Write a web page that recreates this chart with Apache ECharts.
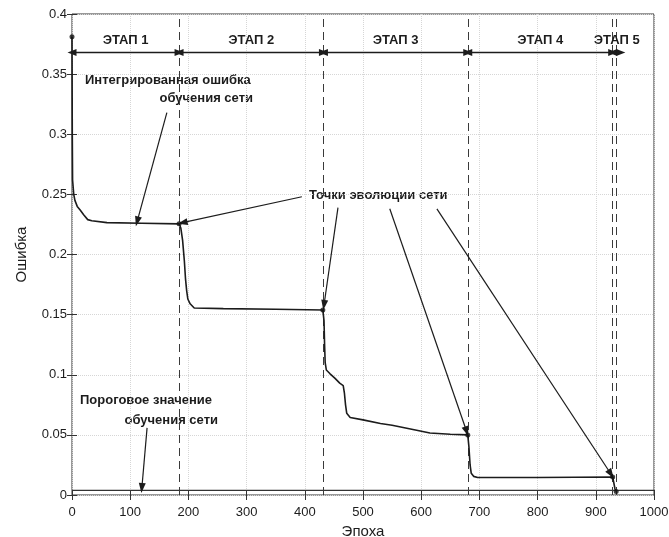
<!DOCTYPE html>
<html><head><meta charset="utf-8">
<script src="https://cdn.jsdelivr.net/npm/echarts@6/dist/echarts.min.js"></script>
<style>html,body{margin:0;padding:0;background:#fff}#c{width:669px;height:537px}</style>
</head><body><div id="c"></div>
<script>
const epochs = [0,0.5,1,3,5,9,14,20,27,34,60,120,184,
  187,190,193,195,197,199,203,210,260,350,431,
  433,434,435,437,443,452,460,466,468,470,472,478,500,530,550,590,615,650,680,
  682,684,686,690,697,800,929,
  931,933,935];
const errors = [0.381,0.30,0.262,0.25,0.245,0.24,0.237,0.233,0.229,0.228,0.2265,0.226,0.2255,
  0.222,0.212,0.195,0.18,0.17,0.163,0.159,0.1555,0.155,0.1545,0.1538,
  0.145,0.125,0.11,0.104,0.101,0.097,0.093,0.091,0.085,0.075,0.068,0.0645,0.0625,0.0595,0.058,0.054,0.0515,0.0505,0.050,
  0.04,0.025,0.018,0.0155,0.0145,0.0145,0.015,
  0.010,0.005,0.003];
const evoX = [0,184,431,680,929,935];
const evoY = [0.381,0.2255,0.1538,0.050,0.015,0.003];
const stageBounds = [0,184,432,680,929,943];
const stageNames = ['ЭТАП 1','ЭТАП 2','ЭТАП 3','ЭТАП 4','ЭТАП 5'];
const stageY = 0.368;
const dividers = [184,432,680,929,935];
const thresholdX = [0,1000];
const thresholdY = [0.0038,0.0038];
// annotation arrows: [fromX, fromY, toX, toY]
const arrowsFrom = [[163,0.318],[395,0.248],[457,0.239],[546,0.238],[627,0.238],[129,0.0558]];
const arrowsTo   = [[112,0.2275],[190,0.2265],[433,0.158],[678,0.053],[926,0.0175],[120,0.0058]];

const FONT = "'Liberation Sans', Arial, sans-serif";
const INK = '#1c1c1c';
const chart = echarts.init(document.getElementById('c'));

const stageLines = stageNames.map((n,i)=>[
  {coord:[stageBounds[i],stageY], name:n},
  {coord:[stageBounds[i+1],stageY]}
]);
const annoLines = arrowsFrom.map((f,i)=>[{coord:f},{coord:arrowsTo[i]}]);

const axisCommon = {
  type:'value', min:0,
  axisLine:{show:false},
  axisTick:{show:true, inside:true, length:5, lineStyle:{color:'#333'}},
  splitLine:{show:false},
};

chart.setOption({
  backgroundColor:'#fff',
  animation:false,
  grid:{left:72, right:15, top:14, bottom:42, containLabel:false, outerBoundsMode:'none',
        show:true, borderColor:'#333', borderWidth:1, backgroundColor:'transparent'},
  textStyle:{fontFamily:FONT},
  xAxis:[
    Object.assign({}, axisCommon, {
      max:1000, interval:100, position:'bottom',
      name:'Эпоха', nameLocation:'middle', nameGap:27,
      nameTextStyle:{fontSize:15, color:INK, fontFamily:FONT},
      axisLabel:{fontSize:13, color:INK, margin:11, fontFamily:FONT, formatter:v=>String(v)},
      splitLine:{show:true, lineStyle:{type:'dotted', color:'#d6d6d6'}}
    }),
    Object.assign({}, axisCommon, {max:1000, interval:100, position:'top', axisLabel:{show:false}})
  ],
  yAxis:[
    Object.assign({}, axisCommon, {
      max:0.4, interval:0.05, position:'left',
      name:'Ошибка', nameLocation:'middle', nameGap:43,
      nameTextStyle:{fontSize:15, color:INK, fontFamily:FONT},
      axisLabel:{fontSize:13, color:INK, margin:5, fontFamily:FONT},
      splitLine:{show:true, lineStyle:{type:'dotted', color:'#d6d6d6'}}
    }),
    Object.assign({}, axisCommon, {max:0.4, interval:0.05, position:'right', axisLabel:{show:false}})
  ],
  series:[
    {
      type:'line', xAxisIndex:0, yAxisIndex:0,
      data: epochs.map((x,i)=>[x, errors[i]]),
      showSymbol:false, symbol:'none',
      lineStyle:{color:INK, width:1.6},
      z:5,
      markLine:{
        silent:true, symbol:'none', animation:false,
        lineStyle:{color:'#3a3a3a', width:1, type:[8,5]},
        label:{show:false},
        data: dividers.map(v=>({xAxis:v}))
      }
    },
    {
      type:'line', xAxisIndex:0, yAxisIndex:0,
      data: thresholdX.map((x,i)=>[x, thresholdY[i]]),
      symbol:'none', showSymbol:false,
      lineStyle:{color:'#333', width:1.2}, z:4
    },
    {
      type:'line', xAxisIndex:0, yAxisIndex:0, data:[], symbol:'none',
      markLine:{
        silent:true, animation:false,
        symbol:['triangle','triangle'], symbolSize:[7,9],
        lineStyle:{color:INK, width:1.3, type:'solid'},
        label:{show:true, position:'insideMiddleTop', distance:6, formatter:p=>p.name,
          color:INK, fontSize:13, fontWeight:'bold', fontFamily:FONT},
        data: stageLines
      }
    },
    {
      type:'line', xAxisIndex:0, yAxisIndex:0, data:[], symbol:'none',
      markLine:{
        silent:true, animation:false,
        symbol:['none','triangle'], symbolSize:[7,10],
        lineStyle:{color:INK, width:1.2, type:'solid'},
        label:{show:false},
        data: annoLines
      }
    },
    {
      type:'scatter', xAxisIndex:0, yAxisIndex:0,
      data: evoX.map((x,i)=>[x, evoY[i]]),
      symbol:'circle', symbolSize:5, itemStyle:{color:'#111'}, z:6
    }
  ],
  graphic:[
    {type:'text', left:85, top:74, style:{text:'Интегрированная ошибка', font:"bold 13px "+FONT, fill:INK}},
    {type:'text', right:669-253, top:92, style:{text:'обучения сети', font:"bold 13px "+FONT, fill:INK}},
    {type:'text', left:309, top:189, style:{text:'Точки эволюции сети', font:"bold 13px "+FONT, fill:INK}},
    {type:'text', left:80, top:394, style:{text:'Пороговое значение', font:"bold 13px "+FONT, fill:INK}},
    {type:'text', right:669-218, top:414, style:{text:'обучения сети', font:"bold 13px "+FONT, fill:INK}}
  ]
});
</script></body></html>
